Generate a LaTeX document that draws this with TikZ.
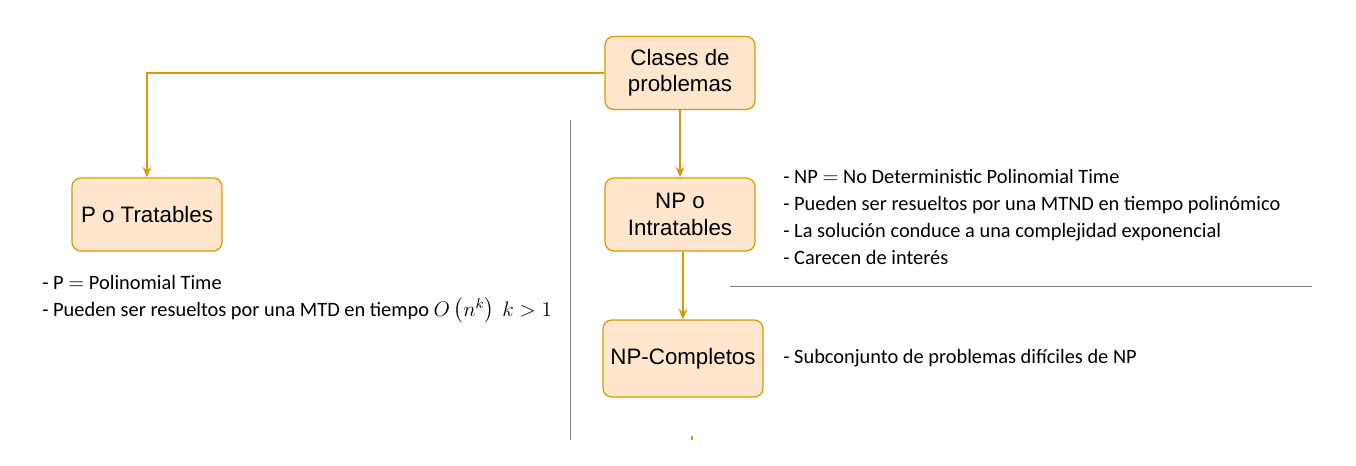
\documentclass[tikz,border=0pt]{standalone}
\usepackage{amsmath}
\usepackage{fontspec}
\setmainfont{Liberation Sans}
\newfontfamily\notefont{Carlito}
\usetikzlibrary{arrows.meta,positioning}
\definecolor{boxfill}{HTML}{FFE6CC}
\definecolor{boxline}{HTML}{D79B00}
\definecolor{sepgray}{HTML}{808080}

\begin{document}
\begin{tikzpicture}[
        x=0.02cm, y=-0.02cm,
        box/.style={draw=boxline, fill=boxfill, line width=0.7pt, rounded corners=5pt,
            minimum width=3cm, minimum height=1.46cm, align=center,
            font=\fontsize{12.7}{15}\selectfont},
        arrow/.style={-{Stealth[length=6pt, width=5pt]}, boxline, line width=0.9pt},
        sep/.style={sepgray, line width=0.5pt},
        note/.style={anchor=base west, inner sep=0pt, align=left,
            font=\notefont\fontsize{11.6}{15.3}\selectfont}
    ]
        \useasboundingbox (0,0) rectangle (1356,466);

        % nodos
        \node[box] (cls) at (680, 73) {Clases de\\problemas};
        \node[box] (p) at (147, 214.5) {P o Tratables};
        \node[box] (np) at (680, 214.5) {NP o\\Intratables};
        \node[box, minimum width=3.2cm, minimum height=1.54cm] (npc) at (683, 358.5) {NP-Completos};

        % flechas
        \draw[arrow] (cls.west) -| (p.north);
        \draw[arrow] (cls.south) -- (np.north);
        \draw[arrow] (npc.north |- np.south) -- (npc.north);
        \coordinate (tick) at (692, 436);
        \draw[boxline, line width=0.7pt] (tick) -- ++(0, 4);

        % separadores
        \coordinate (vtop) at (570, 120);
        \coordinate (hleft) at (730, 286);
        \draw[sep] (vtop) -- ++(0, 320);
        \draw[sep] (hleft) -- ++(582, 0);

        % notas (base = ultima linea)
        \node[note] (pnote) at (42, 316) {- P $=$ Polinomial Time\\
            - Pueden ser resueltos por una MTD en tiempo $O\left(n^k\right)\ k>1$};
        \node[note] (npnote) at (783, 264) {- NP $=$ No Deterministic Polinomial Time\\
            - Pueden ser resueltos por una MTND en tiempo polinómico\\
            - La solución conduce a una complejidad exponencial\\
            - Carecen de interés};
        \node[note] (npcnote) at (783, 363) {- Subconjunto de problemas difíciles de NP};
    \end{tikzpicture}
\end{document}
